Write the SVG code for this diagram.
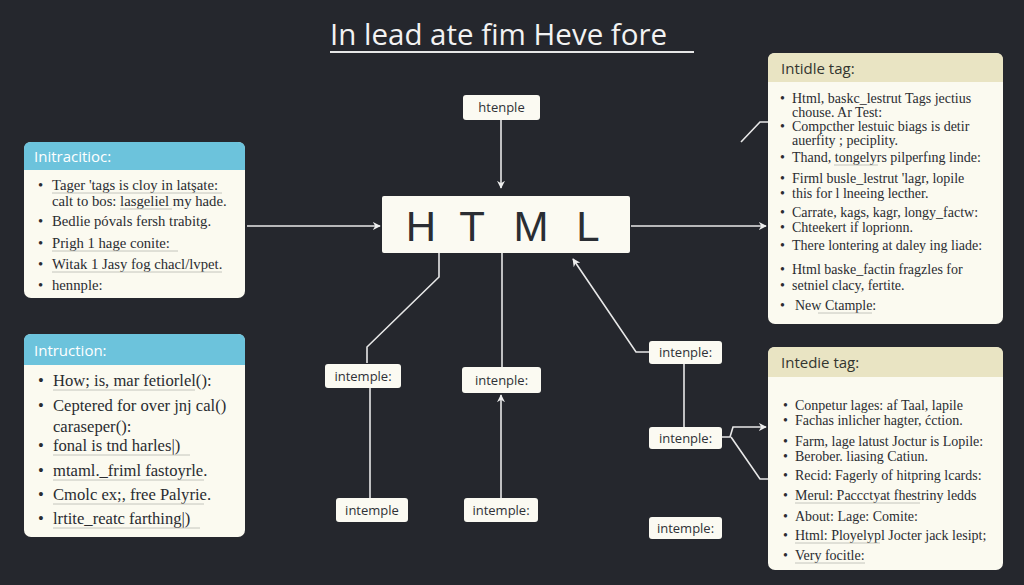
<svg xmlns="http://www.w3.org/2000/svg" width="1024" height="585" viewBox="0 0 1024 585">
<defs>
<marker id="arr" viewBox="0 0 10 10" refX="9" refY="5" markerWidth="8" markerHeight="8" markerUnits="userSpaceOnUse" orient="auto">
<path d="M0,0 L10,5 L0,10 L3,5 Z" fill="#eeeeee"/>
</marker>
<style>
.bg{fill:#25272d}
.title{font-family:"Open Sans","Liberation Sans",sans-serif;font-size:29.5px;fill:#f2f2f2}
.node rect{fill:#fbfaf2}
.nl{font-family:"Open Sans","Liberation Sans",sans-serif;font-size:13px;fill:#2f3136;text-anchor:middle}
.panel{fill:#fbfaf0}
.hb{fill:#6cc3dc}
.ht{fill:#e9e4c3}
.hbt{font-family:"Open Sans","Liberation Sans",sans-serif;font-size:15px;fill:#ffffff}
.htt{font-family:"Open Sans","Liberation Sans",sans-serif;font-size:15px;fill:#33352f}
.pt{font-family:"Liberation Serif","DejaVu Serif",serif;font-size:14px;fill:#2a2c30}
.pt1{font-family:"Liberation Serif","DejaVu Serif",serif;font-size:14.7px;fill:#2a2c30}
.pt2{font-family:"Liberation Serif","DejaVu Serif",serif;font-size:16.6px;fill:#2a2c30}
.ul{stroke:#b8b8b0;stroke-width:0.8}
.conn path{fill:none;stroke:#e8e8e8;stroke-width:1.6}
.big{font-family:"Liberation Sans",sans-serif;font-size:42px;fill:#2a2d33;text-anchor:middle}
</style>
</defs>
<rect class="bg" x="0" y="0" width="1024" height="585"/>

<g id="title">
<text class="title" x="330" y="45">In lead ate fim Heve fore</text>
<line x1="330" y1="52" x2="694" y2="52" stroke="#e6e6e6" stroke-width="2"/>
</g>

<g class="conn" id="connectors">
<path d="M501,120 L501,188" marker-end="url(#arr)"/>
<path d="M247,226 L380,226" marker-end="url(#arr)"/>
<path d="M631,226 L766,226" marker-end="url(#arr)"/>
<path d="M741,142 L760,122 L768,122"/>
<path d="M439,253 L439,277 L367,347 L367,363"/>
<path d="M370,387 L370,498"/>
<path d="M502,253 L502,367"/>
<path d="M501,498 L501,395" marker-end="url(#arr)"/>
<path d="M649,352 L636,352 L573,259" marker-end="url(#arr)"/>
<path d="M684,363 L684,427"/>
<path d="M722,437 L730,437 L733,427 L766,427" marker-end="url(#arr)"/>
<path d="M731,437 L760,479 L768,479"/>
</g>

<g id="n-top" class="node">
<rect x="463" y="95" width="77" height="25" rx="3"/>
<text class="nl" x="501.5" y="112">htenple</text>
</g>

<g id="n-html" class="node">
<rect x="382" y="196" width="248" height="57" rx="2"/>
<text class="big" y="241"><tspan x="421">H</tspan><tspan x="472">T</tspan><tspan x="531">M</tspan><tspan x="588">L</tspan></text>
</g>

<g id="n-a" class="node">
<rect x="325" y="364" width="76" height="24" rx="3"/>
<text class="nl" x="363" y="381">intemple:</text>
</g>
<g id="n-b" class="node">
<rect x="462" y="367" width="79" height="26" rx="3"/>
<text class="nl" x="501.5" y="385">intenple:</text>
</g>
<g id="n-c" class="node">
<rect x="336" y="498" width="72" height="24" rx="3"/>
<text class="nl" x="372" y="515">intemple</text>
</g>
<g id="n-d" class="node">
<rect x="464" y="498" width="74" height="24" rx="3"/>
<text class="nl" x="501" y="515">intemple:</text>
</g>
<g id="n-e" class="node">
<rect x="649" y="341" width="73" height="23" rx="3"/>
<text class="nl" x="685.5" y="357">intenple:</text>
</g>
<g id="n-f" class="node">
<rect x="649" y="427" width="73" height="22" rx="3"/>
<text class="nl" x="685.5" y="443">intenple:</text>
</g>
<g id="n-g" class="node">
<rect x="649" y="517" width="73" height="22" rx="3"/>
<text class="nl" x="685.5" y="533">intemple:</text>
</g>

<g id="panel-left1">
<rect class="panel" x="24" y="142" width="221" height="156" rx="7"/>
<path class="hb" d="M24,170 L24,149 Q24,142 31,142 L238,142 Q245,142 245,149 L245,170 Z"/>
<text class="hbt" x="34" y="162">Initracitioc:</text>
<g class="pt1">
<text x="38" y="190">•</text><text x="52" y="190">Tager 'tags is cloy in latşate:</text>
<text x="52" y="206">calt to bos: lasgeliel my hade.</text>
<text x="38" y="226">•</text><text x="52" y="226">Bedlie póvals fersh trabitg.</text>
<text x="38" y="248">•</text><text x="52" y="248">Prigh 1 hage conite:</text>
<text x="38" y="269">•</text><text x="52" y="269">Witak 1 Jasy fog chacl/lvpet.</text>
<text x="38" y="290">•</text><text x="52" y="290">hennple:</text>
</g>
<line class="ul" x1="52" y1="193" x2="222" y2="193"/>
<line class="ul" x1="120" y1="209" x2="172" y2="209"/>
<line class="ul" x1="52" y1="251" x2="178" y2="251"/>
<line class="ul" x1="52" y1="272" x2="222" y2="272"/>
</g>

<g id="panel-left2">
<rect class="panel" x="24" y="334" width="221" height="203" rx="7"/>
<path class="hb" d="M24,365 L24,341 Q24,334 31,334 L238,334 Q245,334 245,341 L245,365 Z"/>
<text class="hbt" x="34" y="356">Intruction:</text>
<g class="pt2">
<text x="38" y="386">•</text><text x="53" y="386">How; is, mar fetiorlel():</text>
<text x="38" y="411">•</text><text x="53" y="411">Ceptered for over jnj cal()</text>
<text x="53" y="432">caraseper():</text>
<text x="38" y="451">•</text><text x="53" y="451">fonal is tnd harles|)</text>
<text x="38" y="476">•</text><text x="53" y="476">mtaml._friml fastoyrle.</text>
<text x="38" y="500">•</text><text x="53" y="500">Cmolc ex;, free Palyrie.</text>
<text x="38" y="524">•</text><text x="53" y="524">lrtite_reatc farthing|)</text>
</g>
<line class="ul" x1="53" y1="390" x2="195" y2="390"/>
<line class="ul" x1="53" y1="455" x2="190" y2="455"/>
<line class="ul" x1="53" y1="480" x2="204" y2="480"/>
<line class="ul" x1="53" y1="504" x2="204" y2="504"/>
<line class="ul" x1="53" y1="528" x2="200" y2="528"/>
</g>

<g id="panel-right1">
<rect class="panel" x="768" y="53" width="235" height="271" rx="7"/>
<path class="ht" d="M768,82 L768,60 Q768,53 775,53 L996,53 Q1003,53 1003,60 L1003,82 Z"/>
<text class="htt" x="781" y="74">Intidle tag:</text>
<g class="pt">
<text x="780" y="103">•</text><text x="792" y="103">Html, baskc_lestrut Tags jectius</text>
<text x="792" y="117">chouse. Ar Test:</text>
<text x="780" y="131">•</text><text x="792" y="131">Compcther lestuic biags is detir</text>
<text x="792" y="145">auerfity ; peciplity.</text>
<text x="780" y="162">•</text><text x="792" y="162">Thand, tongelyrs pilperfıng linde:</text>
<text x="780" y="183">•</text><text x="792" y="183">Firml busle_lestrut 'lagr, lopile</text>
<text x="780" y="198">•</text><text x="792" y="198">this for l lneeing lecther.</text>
<text x="780" y="217">•</text><text x="792" y="217">Carrate, kags, kagr, longy_factw:</text>
<text x="780" y="232">•</text><text x="792" y="232">Chteekert if loprionn.</text>
<text x="780" y="250">•</text><text x="792" y="250">There lontering at daley ing liade:</text>
<text x="780" y="274">•</text><text x="792" y="274">Html baske_factin fragzles for</text>
<text x="780" y="290">•</text><text x="792" y="290">setniel clacy, fertite.</text>
<text x="780" y="310">•</text><text x="795" y="310">New Ctample:</text>
</g>
<line class="ul" x1="834" y1="165" x2="878" y2="165"/>
<line class="ul" x1="818" y1="313" x2="872" y2="313"/>
</g>

<g id="panel-right2">
<rect class="panel" x="768" y="347" width="235" height="223" rx="7"/>
<path class="ht" d="M768,377 L768,354 Q768,347 775,347 L996,347 Q1003,347 1003,354 L1003,377 Z"/>
<text class="htt" x="781" y="368">Intedie tag:</text>
<g class="pt">
<text x="783" y="410">•</text><text x="795" y="410">Conpetur lages: af Taal, lapile</text>
<text x="783" y="425">•</text><text x="795" y="425">Fachas inlicher hagter, ćction.</text>
<text x="783" y="446">•</text><text x="795" y="446">Farm, lage latust Joctur is Lopile:</text>
<text x="783" y="461">•</text><text x="795" y="461">Berober. liasing Catiun.</text>
<text x="783" y="480">•</text><text x="795" y="480">Recid: Fagerly of hitpring lcards:</text>
<text x="783" y="500">•</text><text x="795" y="500">Merul: Paccctyat fhestriny ledds</text>
<text x="783" y="521">•</text><text x="795" y="521">About: Lage: Comite:</text>
<text x="783" y="540">•</text><text x="795" y="540">Html: Ployelypl Jocter jack lesipt;</text>
<text x="783" y="560">•</text><text x="795" y="560">Very focitle:</text>
</g>
<line class="ul" x1="795" y1="503" x2="920" y2="503"/>
<line class="ul" x1="795" y1="543" x2="880" y2="543"/>
<line class="ul" x1="795" y1="563" x2="865" y2="563"/>
</g>
</svg>
